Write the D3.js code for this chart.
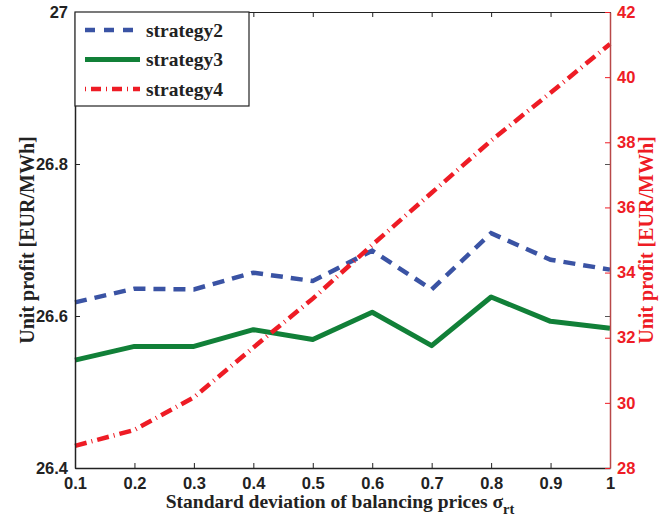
<!DOCTYPE html>
<html>
<head>
<meta charset="utf-8">
<script src="https://cdn.jsdelivr.net/npm/d3@7"></script>
<style>
  html, body { margin: 0; padding: 0; background: #fff; }
  svg { display: block; font-family: "Liberation Serif", "Times New Roman", serif; font-weight: bold; }
</style>
</head>
<body>
<svg id="chart" width="670" height="523"></svg>
<script>
// Standard deviation of balancing prices
const sigma = [0.1, 0.2, 0.3, 0.4, 0.5, 0.6, 0.7, 0.8, 0.9, 1.0];
// Unit profit, left axis [EUR/MWh]
const strategy2 = [26.618, 26.636, 26.635, 26.657, 26.646, 26.686, 26.635, 26.709, 26.674, 26.661];
const strategy3 = [26.542, 26.560, 26.560, 26.582, 26.569, 26.605, 26.561, 26.625, 26.593, 26.584];
// Unit profit, right axis [EUR/MWh]
const strategy4 = [28.68, 29.17, 30.17, 31.70, 33.20, 34.85, 36.45, 38.05, 39.52, 41.02];

const xTicks = [0.1, 0.2, 0.3, 0.4, 0.5, 0.6, 0.7, 0.8, 0.9, 1];
const xTickLabels = ["0.1", "0.2", "0.3", "0.4", "0.5", "0.6", "0.7", "0.8", "0.9", "1"];
const leftTicks = [26.4, 26.6, 26.8, 27];
const leftTickLabels = ["26.4", "26.6", "26.8", "27"];
const rightTicks = [28, 30, 32, 34, 36, 38, 40, 42];
const seriesNames = ["strategy2", "strategy3", "strategy4"];

const svg = d3.select("#chart");
const m = { left: 75, right: 610, top: 12, bottom: 468 };

const x = d3.scaleLinear().domain([0.1, 1]).range([m.left, m.right]);
const yL = d3.scaleLinear().domain([26.4, 27]).range([m.bottom, m.top]);
const yR = d3.scaleLinear().domain([28, 42]).range([m.bottom, m.top]);

const red = "#ee1c25", blue = "#3a53a4", green = "#118038";
const tickLen = 5;

// data lines
const lineL = d3.line().x((d, i) => x(sigma[i])).y(d => yL(d));
const lineR = d3.line().x((d, i) => x(sigma[i])).y(d => yR(d));

const plot = svg.append("g");
plot.append("path").datum(strategy2).attr("d", lineL)
  .attr("fill", "none").attr("stroke", blue).attr("stroke-width", 4.5)
  .attr("stroke-dasharray", "12,8");
plot.append("path").datum(strategy3).attr("d", lineL)
  .attr("fill", "none").attr("stroke", green).attr("stroke-width", 5)
  .attr("stroke-linejoin", "round");
plot.append("path").datum(strategy4).attr("d", lineR)
  .attr("fill", "none").attr("stroke", red).attr("stroke-width", 4.5)
  .attr("stroke-dasharray", "12,5,1,5");

// bottom axis, ticks pointing inward
const xAxis = d3.axisBottom(x).tickValues(xTicks)
  .tickFormat((d, i) => xTickLabels[i]).tickSizeInner(-tickLen).tickSizeOuter(0).tickPadding(9);
const gx = svg.append("g").attr("transform", `translate(0,${m.bottom})`).call(xAxis);
gx.select(".domain").attr("stroke", "#222").attr("stroke-width", 1.5);
gx.selectAll(".tick line").attr("stroke", "#222");
gx.selectAll("text").attr("font-size", 16.5).attr("fill", "#222").attr("dy", "0.71em");

// top edge with mirrored ticks
const xTop = d3.axisTop(x).tickValues(xTicks).tickFormat("").tickSizeInner(-tickLen).tickSizeOuter(0);
const gt = svg.append("g").attr("transform", `translate(0,${m.top})`).call(xTop);
gt.select(".domain").attr("stroke", "#222").attr("stroke-width", 1.2);
gt.selectAll(".tick line").attr("stroke", "#222");

// left axis
const yAxisL = d3.axisLeft(yL).tickValues(leftTicks)
  .tickFormat((d, i) => leftTickLabels[i]).tickSizeInner(-tickLen).tickSizeOuter(0).tickPadding(7);
const gl = svg.append("g").attr("transform", `translate(${m.left},0)`).call(yAxisL);
gl.select(".domain").attr("stroke", "#222").attr("stroke-width", 1.5);
gl.selectAll(".tick line").attr("stroke", "#222");
gl.selectAll("text").attr("font-size", 16.5).attr("fill", "#222");

// left-axis ticks mirrored on the right edge
const yMirror = d3.axisRight(yL).tickValues(leftTicks).tickFormat("").tickSizeInner(-tickLen).tickSizeOuter(0);
const gm = svg.append("g").attr("transform", `translate(${m.right},0)`).call(yMirror);
gm.select(".domain").remove();
gm.selectAll(".tick line").attr("stroke", "#555");

// right axis in red
const yAxisR = d3.axisRight(yR).tickValues(rightTicks).tickSizeInner(-tickLen).tickSizeOuter(0).tickPadding(7);
const gr = svg.append("g").attr("transform", `translate(${m.right},0)`).call(yAxisR);
gr.select(".domain").attr("stroke", "#b84848").attr("stroke-width", 1.5);
gr.selectAll(".tick line").attr("stroke", red);
gr.selectAll("text").attr("font-size", 16.5).attr("fill", red);

// axis titles
svg.append("text").attr("transform", `translate(27,${(m.top + m.bottom) / 2}) rotate(-90)`)
  .attr("text-anchor", "middle").attr("dominant-baseline", "central")
  .attr("font-size", 20).attr("fill", "#222").text("Unit profit [EUR/MWh]");
svg.append("text").attr("transform", `translate(646,${(m.top + m.bottom) / 2}) rotate(-90)`)
  .attr("text-anchor", "middle").attr("dominant-baseline", "central")
  .attr("font-size", 20).attr("fill", red).text("Unit profit [EUR/MWh]");

const xt = svg.append("text").attr("x", 340).attr("y", 508).attr("text-anchor", "middle")
  .attr("font-size", 19.5).attr("fill", "#222");
xt.append("tspan").text("Standard deviation of balancing prices \u03c3");
xt.append("tspan").attr("font-size", 14.5).attr("dy", 6).text("rt");

// legend
const lg = svg.append("g");
lg.append("rect").attr("x", m.left).attr("y", m.top).attr("width", 174).attr("height", 94)
  .attr("fill", "#fff").attr("stroke", "#222").attr("stroke-width", 1.2);
const styles = [
  { c: blue, w: 4.5, dash: "10,9" },
  { c: green, w: 5, dash: null },
  { c: red, w: 4.5, dash: "1,5,10,5" }
];
seriesNames.forEach((name, i) => {
  const yy = 30 + i * 29.5;
  const ln = lg.append("line").attr("x1", 85).attr("x2", 140).attr("y1", yy).attr("y2", yy)
    .attr("stroke", styles[i].c).attr("stroke-width", styles[i].w);
  if (styles[i].dash) ln.attr("stroke-dasharray", styles[i].dash);
  lg.append("text").attr("x", 146).attr("y", yy).attr("dominant-baseline", "central")
    .attr("font-size", 19.5).attr("fill", "#222").text(name);
});
</script>
</body>
</html>
